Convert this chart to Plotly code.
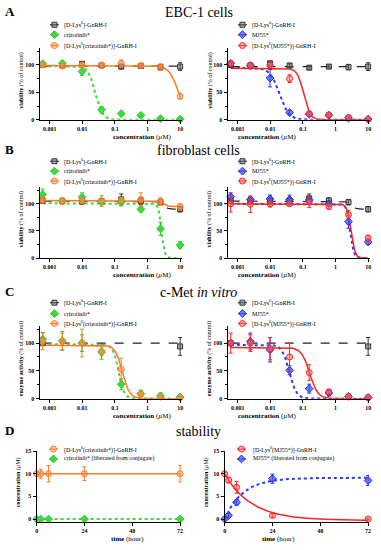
import numpy as np
import plotly.graph_objects as go

W, H = 381, 550
SERIF = "Liberation Serif, Times New Roman, serif"

# ---------------- data ----------------
conc = [0.00061, 0.00244, 0.0098, 0.039, 0.156, 0.625, 2.5, 10]
conc_ends = [0.00061, 10]
conc_ticks = [0.001, 0.01, 0.1, 1, 10]
conc_ticktext = ["0.001", "0.01", "0.1", "1", "10"]
hours = [0, 2, 6, 24, 72]
hour_ticks = [0, 24, 48, 72]

# A: EBC-1 viability (% of control)
ebc_gnrh_l = [100, 99, 102, 99, 97, 98, 96, 97]
ebc_gnrh_l_err = [4, 3, 4, 3, 4, 3, 5, 7]
ebc_criz = [102, 103, 88, 18, 11, 8, 2, 1]
ebc_criz_err = [3, 4, 7, 6, 2, 2, 1, 1]
ebc_criz_conj = [100, 98, 100, 100, 103, 99, 97, 43]
ebc_criz_conj_err = [3, 4, 3, 3, 6, 3, 3, 5]
ebc_gnrh_r = [100, 99, 103, 99, 95, 97, 96, 97]
ebc_gnrh_r_err = [3, 3, 3, 3, 3, 3, 5, 7]
ebc_mj = [103, 99, 76, 13, 10, 8, 3, 1]
ebc_mj_err = [3, 3, 16, 4, 2, 2, 1, 1]
ebc_mj_conj = [103, 99, 100, 75, 11, 9, 4, 1]
ebc_mj_conj_err = [3, 3, 3, 7, 2, 2, 2, 1]

# B: fibroblast viability (% of control)
fib_gnrh_l = [106, 105, 105, 105, 108, 105, 103, 90]
fib_gnrh_l_err = [5, 5, 6, 5, 10, 6, 5, 5]
fib_criz = [117, 105, 112, 104, 103, 90, 54, 24]
fib_criz_err = [10, 5, 8, 6, 7, 5, 12, 7]
fib_criz_conj = [107, 105, 106, 105, 106, 108, 104, 95]
fib_criz_conj_err = [5, 6, 6, 10, 6, 12, 7, 4]
fib_gnrh_r = [106, 105, 105, 105, 110, 106, 103, 90]
fib_gnrh_r_err = [5, 5, 6, 6, 8, 5, 5, 5]
fib_mj = [113, 108, 109, 108, 107, 100, 67, 30]
fib_mj_err = [7, 5, 7, 8, 6, 5, 12, 5]
fib_mj_conj = [100, 99, 100, 100, 103, 95, 80, 37]
fib_mj_conj_err = [15, 15, 6, 4, 10, 5, 8, 5]

# C: c-Met enzyme activity (% of control)
met_gnrh = [100, 94]
met_gnrh_err = [3, 16]
met_criz = [107, 104, 100, 84, 26, 9, 5, 3]
met_criz_err = [12, 17, 15, 13, 10, 6, 5, 4]
met_criz_conj = [103, 103, 100, 85, 53, 8, 3, 2]
met_criz_conj_err = [15, 15, 25, 8, 20, 4, 3, 2]
met_mj = [100, 103, 88, 51, 18, 10, 4, 2]
met_mj_err = [4, 15, 22, 8, 8, 5, 3, 2]
met_mj_conj = [100, 100, 90, 75, 47, 12, 4, 2]
met_mj_conj_err = [18, 15, 20, 25, 14, 5, 3, 2]

# D: stability, concentration (uM) vs time (hour)
stab_criz_conj = [10, 10, 10, 10, 10]
stab_criz_conj_err = [0.3, 1.0, 1.8, 1.5, 1.8]
stab_criz_lib = [0, 0, 0, 0, 0]
stab_criz_lib_err = [0.1, 0.1, 0.1, 0.1, 0.1]
stab_mj_conj = [10, 8.6, 7.0, 0.8, 0]
stab_mj_conj_err = [0.3, 0.6, 1.3, 0.4, 0.2]
stab_mj_lib = [0, 0.8, 3.7, 8.9, 8.5]
stab_mj_lib_err = [0.2, 0.4, 0.6, 1.0, 1.1]

# fitted-curve parameters (top, bottom, IC50 in uM, Hill slope)
fit_ebc_gnrh_l = (98, 98, 1, 1)
fit_ebc_criz = (98, 0, 0.025, 4)
fit_ebc_criz_conj = (99, 0, 9.0, 3)
fit_ebc_gnrh_r = (97, 97, 1, 1)
fit_ebc_mj = (95, 0, 0.019, 3)
fit_ebc_mj_conj = (94, 0, 0.105, 4.5)
fit_fib_gnrh = (105, 90, 3.0, 6)
fit_fib_criz = (101, 0, 2.7, 9)
fit_fib_criz_conj = (106, 95, 3.0, 6)
fit_fib_mj = (100, 0, 2.8, 8)
fit_fib_mj_conj = (100, 0, 3.0, 7)
fit_met_gnrh = (100, 100, 1, 1)
fit_met_criz = (98, 0, 0.13, 5)
fit_met_criz_conj = (96, 0, 0.17, 4)
fit_met_mj = (97, 0, 0.038, 4)
fit_met_mj_conj = (92, 0, 0.16, 3.5)
# stability fits: (plateau, span, rate 1/h)
fit_stab_criz_conj = (10, 0, 0)
fit_stab_criz_lib = (0, 0, 0)
fit_stab_mj_conj = (-0.3, 10.3, 0.075)
fit_stab_mj_lib = (9.1, -9.1, 0.11)

lbl_gnrh = "[D-Lys<sup>6</sup>]-GnRH-I"
lbl_criz = "crizotinib*"
lbl_criz_conj = "[D-Lys<sup>6</sup>(crizotinib*)]-GnRH-I"
lbl_mj = "MJ55*"
lbl_mj_conj = "[D-Lys<sup>6</sup>(MJ55*)]-GnRH-I"
lbl_criz_lib = "crizotinib* (liberated from conjugate)"
lbl_mj_lib = "MJ55* (liberated from conjugate)"

# ---------------- styles ----------------
STY = {
    "gnrh": dict(symbol="square", fill="rgba(105,105,105,0.55)", edge="#333333", size=5,
                 line=dict(color="#222222", dash="dash", width=1.2)),
    "criz": dict(symbol="diamond", fill="#3BDB3B", edge="#2EC82E", size=6,
                 line=dict(color="#3BDB3B", dash="dot", width=2)),
    "criz_conj": dict(symbol="circle", fill="rgba(255,150,90,0.5)", edge="#FF7A22", size=6,
                      line=dict(color="#FF7A22", dash="solid", width=1.5)),
    "mj": dict(symbol="diamond", fill="rgba(70,80,255,0.75)", edge="#2233DD", size=6,
               line=dict(color="#2A3BEE", dash="dot", width=2)),
    "mj_conj": dict(symbol="circle", fill="rgba(255,110,110,0.5)", edge="#FF2222", size=6,
                    line=dict(color="#FF2222", dash="solid", width=1.5)),
}


def px_x(x):
    return x / W


def px_y(y):
    return 1 - y / H


LX = [px_x(38), px_x(182)]
RX = [px_x(228), px_x(372)]
DLX = [px_x(35), px_x(181)]
DRX = [px_x(225), px_x(371)]
AY = [px_y(118), px_y(46)]
BY = [px_y(258), px_y(186.5)]
CY = [px_y(400), px_y(327)]
DY = [px_y(524.5), px_y(453)]

xs_curve = np.logspace(np.log10(conc[0]), np.log10(conc[-1]), 300)
ts_curve = np.linspace(hours[0], hours[-1], 300)


def logistic(x, p):
    top, bottom, ic50, hill = p
    return bottom + (top - bottom) / (1 + (x / ic50) ** hill)


def expo(t, p):
    plateau, span, k = p
    return plateau + span * np.exp(-k * t)


panels = [
    dict(x=LX, y=AY, kind="conc", ytitle="<b>viability</b> (% of control)",
         series=[("gnrh", conc, ebc_gnrh_l, ebc_gnrh_l_err, fit_ebc_gnrh_l, lbl_gnrh),
                 ("criz", conc, ebc_criz, ebc_criz_err, fit_ebc_criz, lbl_criz),
                 ("criz_conj", conc, ebc_criz_conj, ebc_criz_conj_err, fit_ebc_criz_conj, lbl_criz_conj)],
         leg=(53, 61, [22, 32, 43])),
    dict(x=RX, y=AY, kind="conc", ytitle="<b>viability</b> (% of control)",
         series=[("gnrh", conc, ebc_gnrh_r, ebc_gnrh_r_err, fit_ebc_gnrh_r, lbl_gnrh),
                 ("mj", conc, ebc_mj, ebc_mj_err, fit_ebc_mj, lbl_mj),
                 ("mj_conj", conc, ebc_mj_conj, ebc_mj_conj_err, fit_ebc_mj_conj, lbl_mj_conj)],
         leg=(243, 251, [22, 32, 43])),
    dict(x=LX, y=BY, kind="conc", ytitle="<b>viability</b> (% of control)",
         series=[("gnrh", conc, fib_gnrh_l, fib_gnrh_l_err, fit_fib_gnrh, lbl_gnrh),
                 ("criz", conc, fib_criz, fib_criz_err, fit_fib_criz, lbl_criz),
                 ("criz_conj", conc, fib_criz_conj, fib_criz_conj_err, fit_fib_criz_conj, lbl_criz_conj)],
         leg=(53, 61, [160, 170, 180])),
    dict(x=RX, y=BY, kind="conc", ytitle="<b>viability</b> (% of control)",
         series=[("gnrh", conc, fib_gnrh_r, fib_gnrh_r_err, fit_fib_gnrh, lbl_gnrh),
                 ("mj", conc, fib_mj, fib_mj_err, fit_fib_mj, lbl_mj),
                 ("mj_conj", conc, fib_mj_conj, fib_mj_conj_err, fit_fib_mj_conj, lbl_mj_conj)],
         leg=(243, 251, [160, 170, 180])),
    dict(x=LX, y=CY, kind="conc", ytitle="<b>enzyme activity</b> (% of control)",
         series=[("gnrh", conc_ends, met_gnrh, met_gnrh_err, fit_met_gnrh, lbl_gnrh),
                 ("criz", conc, met_criz, met_criz_err, fit_met_criz, lbl_criz),
                 ("criz_conj", conc, met_criz_conj, met_criz_conj_err, fit_met_criz_conj, lbl_criz_conj)],
         leg=(53, 61, [303, 314, 324])),
    dict(x=RX, y=CY, kind="conc", ytitle="<b>enzyme activity</b> (% of control)",
         series=[("gnrh", conc_ends, met_gnrh, met_gnrh_err, fit_met_gnrh, lbl_gnrh),
                 ("mj", conc, met_mj, met_mj_err, fit_met_mj, lbl_mj),
                 ("mj_conj", conc, met_mj_conj, met_mj_conj_err, fit_met_mj_conj, lbl_mj_conj)],
         leg=(243, 251, [303, 314, 324])),
    dict(x=DLX, y=DY, kind="time", ytitle="<b>concentration</b> (<i>µ</i>M)",
         series=[("criz_conj", hours, stab_criz_conj, stab_criz_conj_err, fit_stab_criz_conj, lbl_criz_conj),
                 ("criz", hours, stab_criz_lib, stab_criz_lib_err, fit_stab_criz_lib, lbl_criz_lib)],
         leg=(52, 61, [451, 461])),
    dict(x=DRX, y=DY, kind="time", ytitle="<b>concentration</b> (<i>µ</i>M)",
         series=[("mj_conj", hours, stab_mj_conj, stab_mj_conj_err, fit_stab_mj_conj, lbl_mj_conj),
                 ("mj", hours, stab_mj_lib, stab_mj_lib_err, fit_stab_mj_lib, lbl_mj_lib)],
         leg=(242, 252, [451, 461])),
]

fig = go.Figure()
layout = dict(width=W, height=H, margin=dict(l=0, r=0, t=0, b=0), showlegend=False,
              paper_bgcolor="white", plot_bgcolor="rgba(0,0,0,0)",
              font=dict(family=SERIF, color="black"))
annotations = []

tickfont = dict(family=SERIF, size=6, color="black", weight="bold")
common = dict(showline=True, linecolor="black", linewidth=1.2, ticks="outside", ticklen=3,
              tickwidth=1, tickcolor="black", showgrid=False, zeroline=False, tickfont=tickfont)

for i, p in enumerate(panels, start=1):
    xa, ya = f"x{i}", f"y{i}"
    xkey, ykey = f"xaxis{i}", f"yaxis{i}"
    if p["kind"] == "conc":
        layout[xkey] = dict(common, domain=p["x"], anchor=ya, type="log", range=[-3.31, 1.06],
                            tickvals=conc_ticks, ticktext=conc_ticktext)
        layout[ykey] = dict(common, domain=p["y"], anchor=xa, range=[0, 130], tickvals=[0, 50, 100],
                            minor=dict(ticks="outside", ticklen=2, dtick=25, tickcolor="black"))
        xtitle = "<b>concentration</b> (<i>µ</i>M)"
    else:
        layout[xkey] = dict(common, domain=p["x"], anchor=ya, range=[0, 72.5], tickvals=hour_ticks)
        layout[ykey] = dict(common, domain=p["y"], anchor=xa, range=[-0.6, 15], tickvals=[0, 5, 10, 15])
        xtitle = "<b>time</b> (hour)"

    # fitted curves
    for key, xv, yv, ev, fit, lbl in p["series"]:
        s = STY[key]
        if p["kind"] == "conc":
            cx, cy = xs_curve, logistic(xs_curve, fit)
        else:
            cx, cy = ts_curve, expo(ts_curve, fit)
        fig.add_trace(go.Scatter(x=cx, y=cy, mode="lines", line=s["line"], xaxis=xa, yaxis=ya,
                                 hoverinfo="skip", cliponaxis=False))
    # data points
    for key, xv, yv, ev, fit, lbl in p["series"]:
        s = STY[key]
        fig.add_trace(go.Scatter(
            x=xv, y=yv, mode="markers", xaxis=xa, yaxis=ya, cliponaxis=False,
            marker=dict(symbol=s["symbol"], size=s["size"], color=s["fill"],
                        line=dict(color=s["edge"], width=1)),
            error_y=dict(type="data", array=ev, visible=True, color=s["edge"], thickness=1, width=2),
            name=lbl))

    # axis titles
    annotations.append(dict(text=xtitle, xref="paper", yref="paper", x=(p["x"][0] + p["x"][1]) / 2,
                            y=p["y"][0], yshift=-17, yanchor="middle", showarrow=False,
                            font=dict(family=SERIF, size=7)))
    annotations.append(dict(text=p["ytitle"], xref="paper", yref="paper", x=p["x"][0], xshift=-18,
                            y=(p["y"][0] + p["y"][1]) / 2, yshift=4, textangle=-90, showarrow=False,
                            xanchor="center", yanchor="middle", font=dict(family=SERIF, size=6)))

    # legend (drawn on overlay pixel axes)
    mx, tx, rows = p["leg"]
    for (key, xv, yv, ev, fit, lbl), ry in zip(p["series"], rows):
        s = STY[key]
        fig.add_trace(go.Scatter(
            x=[mx], y=[ry], mode="markers", xaxis="x9", yaxis="y9", cliponaxis=False,
            marker=dict(symbol=s["symbol"], size=s["size"], color=s["fill"],
                        line=dict(color=s["edge"], width=1)),
            error_x=dict(type="constant", value=4.5, width=0, thickness=1.2, color=s["edge"]),
            hoverinfo="skip"))
        annotations.append(dict(text=lbl, xref="x9", yref="y9", x=tx, y=ry, xanchor="left",
                                yanchor="middle", showarrow=False, font=dict(family=SERIF, size=6)))

layout["xaxis9"] = dict(domain=[0, 1], range=[0, W], visible=False, anchor="y9")
layout["yaxis9"] = dict(domain=[0, 1], range=[H, 0], visible=False, anchor="x9")

# panel letters and titles
for letter, ty, title in [("A", 9, "EBC-1 cells"), ("B", 148, "fibroblast cells"),
                          ("C", 292, "c-Met <i>in vitro</i>"), ("D", 432, "stability")]:
    annotations.append(dict(text=f"<b>{letter}</b>", xref="paper", yref="paper", x=px_x(8), y=px_y(ty),
                            xanchor="center", yanchor="middle", showarrow=False,
                            font=dict(family=SERIF, size=13)))
    annotations.append(dict(text=title, xref="paper", yref="paper", x=px_x(199), y=px_y(ty + 1),
                            xanchor="center", yanchor="middle", showarrow=False,
                            font=dict(family=SERIF, size=14)))

layout["annotations"] = annotations
fig.update_layout(**layout)
fig.write_html("out.html", config={"displayModeBar": False},
               post_script="document.body.style.margin='0';document.body.style.padding='0';")
